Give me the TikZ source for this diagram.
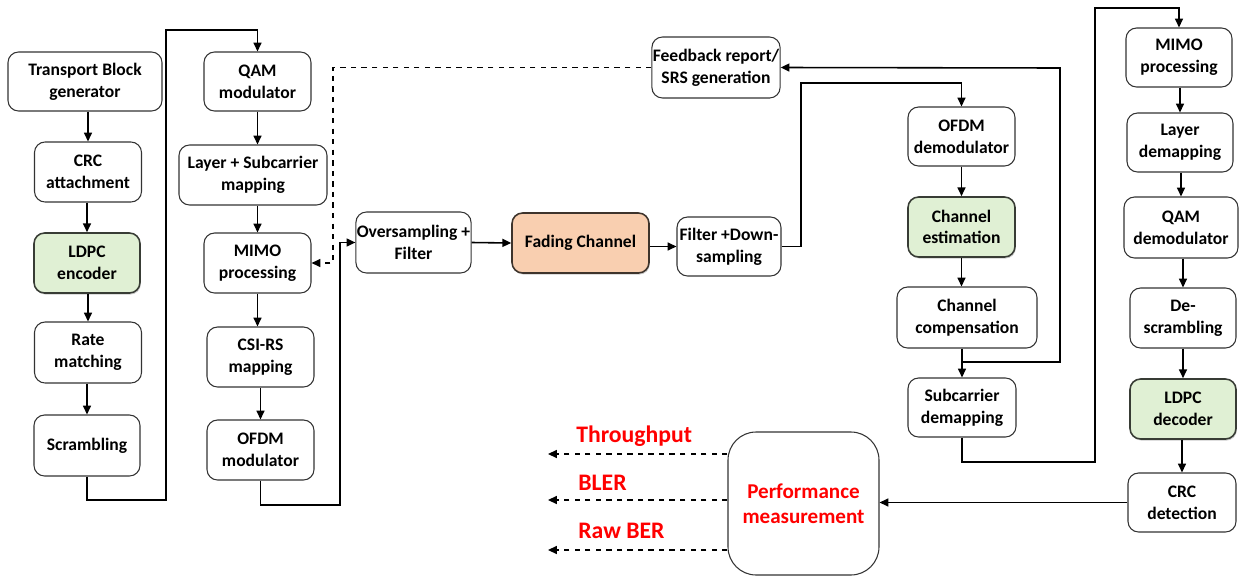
\documentclass[tikz,border=0pt]{standalone}
\usepackage{fontspec}
\setmainfont{Carlito}
\usepackage{tikz}
\usetikzlibrary{arrows.meta, shadows}

\definecolor{encgreen}{HTML}{E0F0D4}
\definecolor{chorange}{HTML}{F9CFB0}

\tikzset{
  blk/.style 2 args={draw=black!80, line width=0.6pt, rounded corners=6pt, align=center,
    font=\fontsize{10}{12.4}\selectfont\bfseries, inner sep=0.5pt,
    minimum width=#1*0.02cm, minimum height=#2*0.02cm},
  greenblk/.style={fill=encgreen, draw=black!75!encgreen, line width=0.9pt,
    drop shadow={shadow xshift=0.5pt, shadow yshift=-0.9pt, opacity=0.4}},
  orangeblk/.style={fill=chorange, draw=black!75!chorange, line width=0.9pt,
    drop shadow={shadow xshift=0.5pt, shadow yshift=-0.9pt, opacity=0.4}},
  arr/.style={line width=0.9pt, -{Triangle[length=5pt, width=4.5pt]}},
  darr/.style={arr, dashed},
  lbl/.style={text=red, font=\fontsize{13.5}{16}\selectfont\bfseries, anchor=west, inner sep=0pt}
}

\begin{document}
\begin{tikzpicture}[x=0.02cm, y=-0.02cm]
  \useasboundingbox (0,0) rectangle (1245,578);

  % transmitter, first column
  \node[blk={154}{59}] (tb) at (85,81.5) {Transport Block\\generator};
  \node[blk={107}{60}] (crc) at (88,172) {CRC\\attachment};
  \node[blk={106}{60}, greenblk] (ldpc) at (87,263) {LDPC\\encoder};
  \node[blk={107}{61}] (rate) at (88,352.5) {Rate\\matching};
  \node[blk={106}{61}] (scr) at (87,445.5) {Scrambling};

  % transmitter, second column
  \node[blk={107}{59}] (qam) at (257.5,81.5) {QAM\\modulator};
  \node[blk={148}{60}] (layer) at (253,175) {Layer + Subcarrier\\mapping};
  \node[blk={107}{60}] (mimo) at (257.5,263) {MIMO\\processing};
  \node[blk={107}{60}] (csi) at (260.5,357) {CSI-RS\\mapping};
  \node[blk={107}{60}] (ofdm) at (260.5,450) {OFDM\\modulator};

  % channel
  \node[blk={113}{61}] (over) at (413.5,242.5) {Oversampling +\\Filter};
  \node[blk={137}{60}, orangeblk] (fade) at (580.5,243) {Fading Channel};
  \node[blk={104}{59}] (fdown) at (729,246.5) {Filter +Down-\\sampling};
  \node[blk={124}{61}] (fb) at (716,67.5) {Feedback report/\\SRS generation};

  % receiver, first column
  \node[blk={107}{59}] (ofdmd) at (961.5,136.5) {OFDM\\demodulator};
  \node[blk={107}{60}, greenblk] (chest) at (961.5,227) {Channel\\estimation};
  \node[blk={140}{61}] (chcomp) at (967,317.5) {Channel\\compensation};
  \node[blk={108}{59}] (subd) at (962,407.5) {Subcarrier\\demapping};

  % receiver, second column
  \node[blk={106}{59}] (mimor) at (1179,57.5) {MIMO\\processing};
  \node[blk={106}{59}] (layd) at (1180,142.5) {Layer\\demapping};
  \node[blk={114}{61}] (qamd) at (1181,227.5) {QAM\\demodulator};
  \node[blk={106}{60}] (desc) at (1183,318) {De-\\scrambling};
  \node[blk={106}{60}, greenblk] (ldpcd) at (1183,409) {LDPC\\decoder};
  \node[blk={108}{59}] (crcd) at (1182,502.5) {CRC\\detection};

  % performance
  \node[blk={151}{143}, rounded corners=16pt, text=red,
    font=\fontsize{12}{14.2}\selectfont\bfseries] (perf) at (803.5,503.5) {Performance\\measurement};
  \node[lbl] (thr) at (576,436) {Throughput};
  \node[lbl] (bler) at (578,483) {BLER};
  \node[lbl] (ber) at (578,531) {Raw BER};
  \coordinate (o1) at (548,454);
  \coordinate (o2) at (548,500);
  \coordinate (o3) at (548,550);
  \coordinate (jn) at (962,362);

  % connectors
  \draw[arr] (tb.south -| crc.north) -- (crc.north);
  \draw[arr] (crc.south -| ldpc.north) -- (ldpc.north);
  \draw[arr] (ldpc.south -| rate.north) -- (rate.north);
  \draw[arr] (rate.south -| scr.north) -- (scr.north);
  \draw[arr] (scr.south) |- (166,500) -- (166,30) -| (qam.north);
  \draw[arr] (qam.south) -- (qam.south |- layer.north);
  \draw[arr] (mimo.north |- layer.south) -- (mimo.north);
  \draw[arr] (mimo.south) -- (mimo.south |- csi.north);
  \draw[arr] (csi.south) -- (ofdm.north);
  \draw[arr] (ofdm.south) |- (340,505) |- (over.west);
  \draw[darr] (fb.west) -| (333,263) -- (mimo.east);
  \draw[arr] (over.east) -- (fade.west);
  \draw[arr] (fade.east |- fdown.west) -- (fdown.west);
  \draw[arr] (fdown.east) -| (801,83) -| (ofdmd.north);
  \draw[arr] (ofdmd.south) -- (chest.north);
  \draw[arr] (chest.south) -- (chest.south |- chcomp.north);
  \draw[arr] (subd.north |- chcomp.south) -- (subd.north);
  \draw[arr] (jn) -| (1060,68) -- (fb.east);
  \draw[arr] (subd.south) |- (1095,462) -- (1095,8) -| (mimor.north);
  \draw[arr] (mimor.south -| layd.north) -- (layd.north);
  \draw[arr] (layd.south -| qamd.north) -- (qamd.north);
  \draw[arr] (qamd.south -| desc.north) -- (desc.north);
  \draw[arr] (desc.south) -- (ldpcd.north);
  \draw[arr] (ldpcd.south -| crcd.north) -- (crcd.north);
  \draw[arr] (crcd.west) -- (perf.east |- crcd.west);
  \draw[darr] (perf.west |- o1) -- (o1);
  \draw[darr] (perf.west |- o2) -- (o2);
  \draw[darr] (perf.west |- o3) -- (o3);
\end{tikzpicture}
\end{document}
